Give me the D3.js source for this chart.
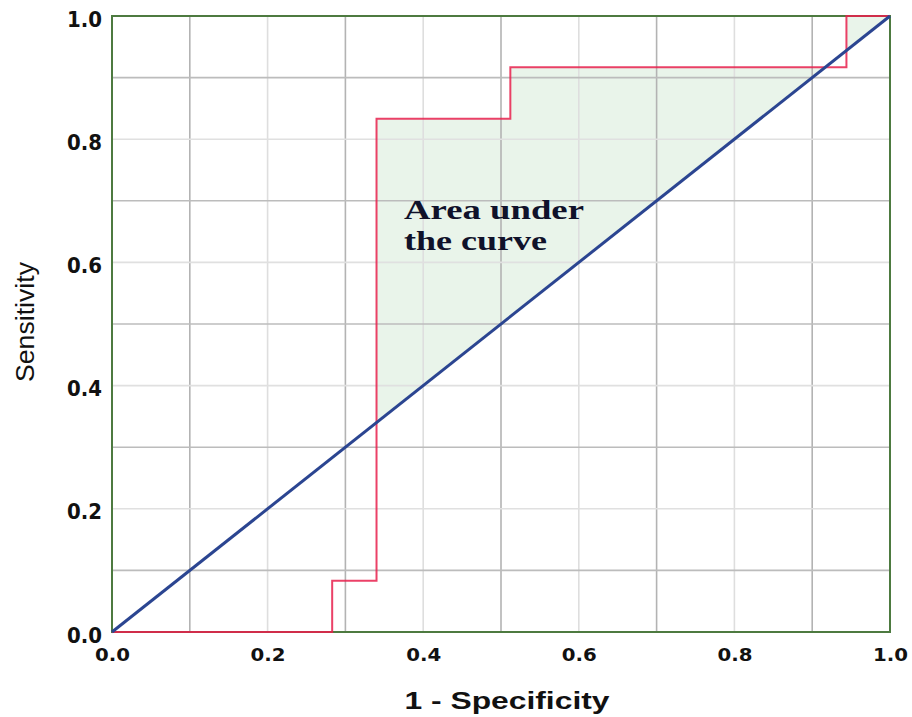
<!DOCTYPE html>
<html>
<head>
<meta charset="utf-8">
<script src="https://cdn.jsdelivr.net/npm/d3@7"></script>
<style>
  body { margin: 0; background: #fff; }
  svg { display: block; }
</style>
</head>
<body>
<div id="chart"></div>
<script>
// ROC curve vertices (1 - specificity, sensitivity), steps of 1/12 in sensitivity
const fpr = [0, 0.283, 0.283, 0.34, 0.34, 0.512, 0.512, 0.944, 0.944, 1];
const tpr = [0, 0, 0.083, 0.083, 0.833, 0.833, 0.917, 0.917, 1, 1];
const tickValues = [0, 0.2, 0.4, 0.6, 0.8, 1.0];
const gridValues = [0.1, 0.2, 0.3, 0.4, 0.5, 0.6, 0.7, 0.8, 0.9];
const labelLines = ["Area under", "the curve"];

const width = 912, height = 717;
const margin = {top: 16, right: 22, bottom: 85, left: 112};

const svg = d3.select("#chart").append("svg")
    .attr("width", width)
    .attr("height", height);

const x = d3.scaleLinear().domain([0, 1]).range([margin.left, width - margin.right]);
const y = d3.scaleLinear().domain([0, 1]).range([height - margin.bottom, margin.top]);

const roc = fpr.map((v, i) => [v, tpr[i]]);

// clip the shaded area to the part above the chance line
svg.append("clipPath").attr("id", "above")
  .append("path")
    .attr("d", d3.line()([[x(0), y(0)], [x(1), y(1)], [x(0), y(1)]]));

const line = d3.line().x(d => x(d[0])).y(d => y(d[1]));

svg.append("path")
    .attr("d", line(roc.concat([[1, 1], [0, 0]])))
    .attr("fill", "#e9f4ea")
    .attr("clip-path", "url(#above)");

// grid: odd tenths darker
svg.append("g").selectAll("line.gx")
  .data(gridValues).join("line")
    .attr("x1", d => x(d)).attr("x2", d => x(d))
    .attr("y1", y(0)).attr("y2", y(1))
    .attr("stroke", (d, i) => i % 2 == 0 ? "#b3b3b3" : "#dedede")
    .attr("stroke-width", 1.6);
svg.append("g").selectAll("line.gy")
  .data(gridValues).join("line")
    .attr("y1", d => y(d)).attr("y2", d => y(d))
    .attr("x1", x(0)).attr("x2", x(1))
    .attr("stroke", (d, i) => i % 2 == 0 ? "#bcbcbc" : "#e0e0e0")
    .attr("stroke-width", 1.6);

// frame
svg.append("rect")
    .attr("x", x(0)).attr("y", y(1))
    .attr("width", x(1) - x(0)).attr("height", y(0) - y(1))
    .attr("fill", "none")
    .attr("stroke", "#4d7a40")
    .attr("stroke-width", 2);

// ROC curve
svg.append("path")
    .attr("d", line(roc))
    .attr("fill", "none")
    .attr("stroke", "#e8204c")
    .attr("stroke-opacity", 0.85)
    .attr("stroke-width", 2);

// chance diagonal
svg.append("path")
    .attr("d", line([[0, 0], [1, 1]]))
    .attr("fill", "none")
    .attr("stroke", "#2b4591")
    .attr("stroke-width", 3);

// axes (labels only, the frame carries the lines)
const xAxis = svg.append("g")
    .attr("transform", `translate(0,${y(0)})`)
    .call(d3.axisBottom(x).tickValues(tickValues).tickFormat(d3.format(".1f")).tickSize(0));
xAxis.select(".domain").remove();
xAxis.selectAll("text")
    .attr("y", 29)
    .attr("dy", 0)
    .attr("font-family", "DejaVu Sans")
    .attr("font-weight", "bold")
    .attr("font-size", 18)
    .attr("fill", "#111")
    .attr("textLength", 35)
    .attr("lengthAdjust", "spacingAndGlyphs");

const yAxis = svg.append("g")
    .attr("transform", `translate(${x(0)},0)`)
    .call(d3.axisLeft(y).tickValues(tickValues).tickFormat(d3.format(".1f")).tickSize(0));
yAxis.select(".domain").remove();
yAxis.selectAll("text")
    .attr("x", -10)
    .attr("dy", 10)
    .attr("font-family", "DejaVu Sans")
    .attr("font-weight", "bold")
    .attr("font-size", 21)
    .attr("fill", "#111")
    .attr("textLength", 35)
    .attr("lengthAdjust", "spacingAndGlyphs");

// axis titles
svg.append("text")
    .attr("x", 507).attr("y", 709)
    .attr("text-anchor", "middle")
    .attr("font-family", "Liberation Sans")
    .attr("font-weight", "bold")
    .attr("font-size", 23)
    .attr("fill", "#111")
    .attr("textLength", 205)
    .attr("lengthAdjust", "spacingAndGlyphs")
    .text("1 - Specificity");

svg.append("text")
    .attr("transform", "translate(34,322) rotate(-90)")
    .attr("text-anchor", "middle")
    .attr("font-family", "Liberation Sans")
    .attr("font-size", 26)
    .attr("fill", "#111")
    .attr("textLength", 120)
    .attr("lengthAdjust", "spacingAndGlyphs")
    .text("Sensitivity");

// annotation
svg.append("g").selectAll("text")
  .data(labelLines).join("text")
    .attr("x", 404)
    .attr("y", (d, i) => 219 + i * 31)
    .attr("font-family", "Liberation Serif")
    .attr("font-weight", "bold")
    .attr("font-size", 28)
    .attr("fill", "#10122a")
    .attr("textLength", (d, i) => i == 0 ? 180 : 143)
    .attr("lengthAdjust", "spacingAndGlyphs")
    .text(d => d);
</script>
</body>
</html>
